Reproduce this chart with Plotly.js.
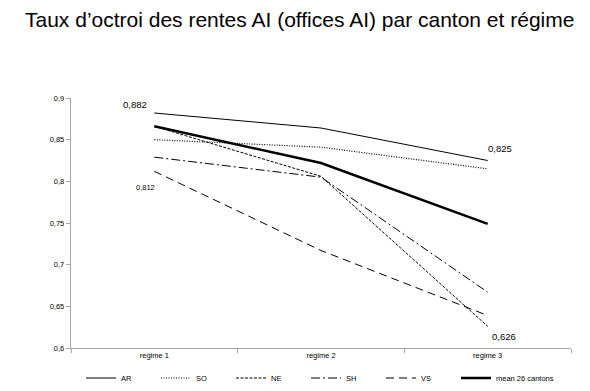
<!DOCTYPE html>
<html><head><meta charset="utf-8">
<script src="https://cdn.plot.ly/plotly-3.0.1.min.js"></script>
<style>body{margin:0}#c{width:590px;height:391px}</style>
</head><body><div id="c"></div>
<script>
const categories = ["regime 1", "regime 2", "regime 3"];
const AR = [0.882, 0.864, 0.825];
const SO = [0.850, 0.841, 0.815];
const NE = [0.866, 0.806, 0.626];
const SH = [0.829, 0.805, 0.667];
const VS = [0.812, 0.717, 0.639];
const MEAN = [0.866, 0.822, 0.749];
const yTicks = [0.6, 0.65, 0.7, 0.75, 0.8, 0.85, 0.9];

const fmt = v => v.toFixed(3).replace('.', ',');
function tr(name, y, dash, width, leg) {
  return {x: categories, y: y, name: name, type: 'scatter', mode: 'lines', legend: leg || 'legend',
    line: {color: '#000', width: width, dash: dash}};
}
const data = [
  tr('AR', AR, 'solid', 1),
  tr('SO', SO, '1px,1.5px', 1.2),
  tr('NE', NE, '3px,1.5px', 1),
  tr('SH', SH, '9px,3px,2px,3px', 1),
  tr('VS', VS, '8px,5px', 1),
  tr('mean 26 cantons', MEAN, 'solid', 2.5, 'legend2')
];
const annotations = [
  {x: categories[0], y: AR[0], text: fmt(AR[0]), xshift: -19, yshift: 9, size: 9.5},
  {x: categories[0], y: VS[0], text: fmt(VS[0]), xshift: -9, yshift: -16, size: 7.5},
  {x: categories[2], y: AR[2], text: fmt(AR[2]), xshift: 12, yshift: 12, size: 9.5},
  {x: categories[2], y: NE[2], text: fmt(NE[2]), xshift: 16, yshift: -10, size: 9.5}
].map(a => ({x: a.x, y: a.y, text: a.text, showarrow: false, xshift: a.xshift, yshift: a.yshift,
  font: {family: 'Liberation Sans, Arial, sans-serif', size: a.size, color: '#000'}}));

const legFont = {family: 'Liberation Sans, Arial, sans-serif', size: 7.5, color: '#000'};
const layout = {
  width: 590, height: 391,
  margin: {l: 71, r: 19, t: 98, b: 43, autoexpand: false},
  paper_bgcolor: '#fff', plot_bgcolor: '#fff',
  separators: ',.',
  title: {text: 'Taux d’octroi des rentes AI (offices AI) par canton et régime',
    x: 0.508, xref: 'container', xanchor: 'center', y: 0.95, yanchor: 'middle',
    font: {family: 'Liberation Sans, Arial, sans-serif', size: 21, color: '#000'}},
  xaxis: {type: 'category', range: [-0.5, 2.5], showgrid: false, zeroline: false,
    showline: true, linecolor: '#a6a6a6', linewidth: 1.2, ticks: 'outside', tickson: 'boundaries',
    ticklen: 4, tickcolor: '#a6a6a6',
    tickfont: {family: 'Liberation Sans, Arial, sans-serif', size: 7.5, color: '#000'}},
  yaxis: {range: [0.6, 0.9], tickvals: yTicks, tickformat: '.2~f', showgrid: false, zeroline: false,
    showline: true, linecolor: '#a6a6a6', linewidth: 1.2, ticks: 'outside', ticklen: 4, tickcolor: '#a6a6a6',
    tickfont: {family: 'Liberation Sans, Arial, sans-serif', size: 7.5, color: '#000'}},
  showlegend: true,
  legend: {orientation: 'h', x: 0.02, xanchor: 'left', y: -0.12, yanchor: 'middle',
    entrywidth: 30, entrywidthmode: 'pixels', itemwidth: 30, font: legFont},
  legend2: {orientation: 'h', x: 0.77, xanchor: 'left', y: -0.12, yanchor: 'middle',
    itemwidth: 30, font: legFont},
  annotations: annotations
};
Plotly.newPlot('c', data, layout, {displayModeBar: false, staticPlot: true});
</script></body></html>
